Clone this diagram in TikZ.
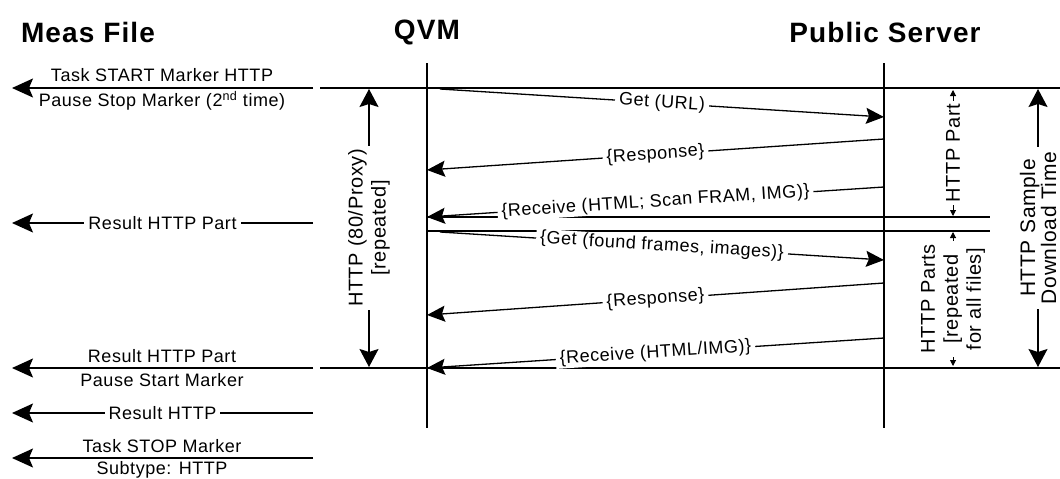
\documentclass[tikz,border=0pt]{standalone}
\usepackage{fontspec}
\setmainfont{Liberation Sans}
\newfontfamily\labfont[LetterSpace=3]{Liberation Sans}
\newfontfamily\headfont[LetterSpace=4]{Liberation Sans}
\usetikzlibrary{arrows.meta}
\begin{document}
\begin{tikzpicture}[x=1pt,y=-1pt,
  line/.style={line width=1.2pt},
  big/.style={line width=1.3pt,-{Stealth[length=21pt,width=19pt,inset=4pt]}},
  bigboth/.style={line width=1.3pt,{Stealth[length=18pt,width=19pt,inset=3pt]}-{Stealth[length=18pt,width=19pt,inset=3pt]}},
  msg/.style={line width=1.3pt,-{Stealth[length=18pt,width=16pt,inset=3pt]}},
  lab/.style={font=\labfont\fontsize{18}{20}\selectfont, inner sep=0pt},
  onl/.style={lab, fill=white, inner xsep=4pt, inner ysep=1pt},
  head/.style={font=\headfont\bfseries\fontsize{28}{30}\selectfont, inner sep=0pt},
  vlab/.style={font=\labfont\fontsize{20}{23}\selectfont, rotate=90, fill=white, align=center, inner xsep=3pt, inner ysep=1pt},
  tinyboth/.style={line width=1pt,{Triangle[length=6pt,width=6pt]}-{Triangle[length=6pt,width=6pt]}},
]
\useasboundingbox[fill=white] (0,0) rectangle (1060,479);

% headers
\node[head] (hmeas) at (88,32) {Meas File};
\node[head] (hqvm) at (427,32) {QVM};
\node[head] (hpub) at (885,32) {Public Server};

% lifelines
\coordinate (qtop) at (427,63); \coordinate (qbot) at (427,428);
\coordinate (ptop) at (884,63); \coordinate (pbot) at (884,428);
\draw[line] (qtop) -- (qbot);
\draw[line] (ptop) -- (pbot);

% horizontal separators
\coordinate (tl) at (320,88); \coordinate (tr) at (1060,88);
\coordinate (bl) at (320,368); \coordinate (br) at (1060,368);
\coordinate (m1l) at (427,217); \coordinate (m1r) at (990,217);
\coordinate (m2l) at (427,231); \coordinate (m2r) at (990,231);
\draw[line] (tl) -- (tr);
\draw[line] (bl) -- (br);
\draw[line] (m1l) -- (m1r);
\draw[line] (m2l) -- (m2r);

% arrows to Meas File
\coordinate (a1r) at (313,88);  \coordinate (a1l) at (12,88);
\coordinate (a2r) at (313,223); \coordinate (a2l) at (12,223);
\coordinate (a3r) at (313,368); \coordinate (a3l) at (12,368);
\coordinate (a4r) at (313,413); \coordinate (a4l) at (12,413);
\coordinate (a5r) at (313,458); \coordinate (a5l) at (12,458);
\draw[big] (a1r) -- (a1l);
\node[lab] (t1a) at (162,75) {Task START Marker HTTP};
\node[lab] (t1b) at (162,101) {Pause Stop Marker (2\textsuperscript{nd} time)};
\draw[big] (a2r) -- node[onl] (t2) {Result HTTP Part} (a2l);
\draw[big] (a3r) -- (a3l);
\node[lab] (t3a) at (162,356) {Result HTTP Part};
\node[lab] (t3b) at (162,380) {Pause Start Marker};
\draw[big] (a4r) -- node[onl] (t4) {Result HTTP} (a4l);
\draw[big] (a5r) -- (a5l);
\node[lab] (t5a) at (162,446) {Task STOP Marker};
\node[lab] (t5b) at (162,470) {Subtype: HTTP};

% messages QVM <-> Public Server
\coordinate (g1s) at (440,89);  \coordinate (g1e) at (884,117);
\coordinate (r1s) at (884,139); \coordinate (r1e) at (427,170);
\coordinate (v1s) at (884,187); \coordinate (v1e) at (427,217);
\coordinate (g2s) at (440,232); \coordinate (g2e) at (884,260);
\coordinate (r2s) at (884,283); \coordinate (r2e) at (427,315);
\coordinate (v2s) at (884,338); \coordinate (v2e) at (427,368);
\draw[msg] (g1s) -- node[onl, sloped] (gt1) {Get (URL)} (g1e);
\draw[msg] (r1s) -- node[onl, sloped] (rt1) {\{Response\}} (r1e);
\draw[msg] (v1s) -- node[onl, sloped] (vt1) {\{Receive (HTML; Scan FRAM, IMG)\}} (v1e);
\draw[msg] (g2s) -- node[onl, sloped] (gt2) {\{Get (found frames, images)\}} (g2e);
\draw[msg] (r2s) -- node[onl, sloped] (rt2) {\{Response\}} (r2e);
\draw[msg] (v2s) -- node[onl, sloped] (vt2) {\{Receive (HTML/IMG)\}} (v2e);

% dimension arrows
\coordinate (d1t) at (369,89);  \coordinate (d1b) at (369,367);
\draw[bigboth] (d1t) -- node[vlab] (dl1) {HTTP (80/Proxy)\\{}[repeated]} (d1b);
\coordinate (d2t) at (953,90);  \coordinate (d2b) at (953,216);
\draw[tinyboth] (d2t) -- node[vlab] (dl2) {HTTP Part} (d2b);
\coordinate (d3t) at (953,232); \coordinate (d3b) at (953,366);
\draw[tinyboth] (d3t) -- node[vlab] (dl3) {HTTP Parts\\{}[repeated\\for all files]} (d3b);
\coordinate (d4t) at (1038,89); \coordinate (d4b) at (1038,367);
\draw[bigboth] (d4t) -- node[vlab, font=\labfont\fontsize{21}{21}\selectfont, inner xsep=5pt] (dl4) {HTTP Sample\\Download Time} (d4b);
\end{tikzpicture}
\end{document}
